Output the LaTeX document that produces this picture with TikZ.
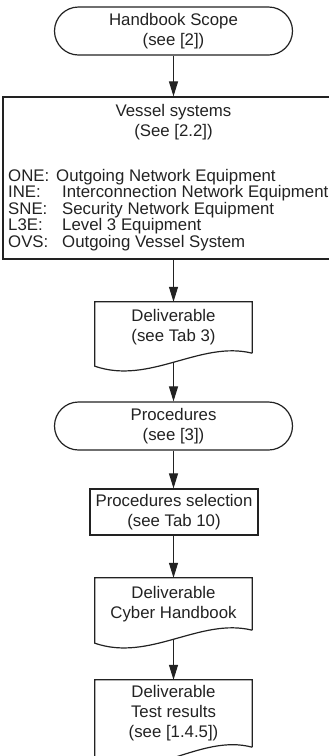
\documentclass[tikz,border=0pt]{standalone}
\usepackage{fontspec}
\setmainfont{Liberation Sans}
\usetikzlibrary{arrows.meta}
\definecolor{ink}{HTML}{222222}
\newcommand\tag[2][54pt]{\makebox[#1][l]{#2}}

\tikzset{
  every node/.style={font=\fontsize{16.8}{20}\selectfont, text=ink, inner sep=0pt},
  flow/.style={draw=ink, line width=1.2pt},
  terminal/.style={flow, rectangle, rounded corners=24pt, minimum width=238pt, minimum height=48pt, align=center},
  procbox/.style={flow, rectangle, minimum width=168pt, minimum height=46pt, align=center},
  docbox/.style={rectangle, minimum width=157pt, align=center},
  listline/.style={anchor=base west},
  arr/.style={draw=ink, line width=1.1pt, -{Triangle[length=15pt,width=9pt]}},
}

\begin{document}
\begin{tikzpicture}[x=1pt,y=-1pt]
\useasboundingbox (0,0) rectangle (329,756);

% start terminal
\node[terminal] (hs) at (173.5,31) {Handbook Scope\\(see [2])};

% vessel systems box (runs past the right margin)
\node[flow, rectangle, minimum width=342pt, minimum height=162pt] (vs) at (174,178) {};
\node[align=center] (vst) at (173.5,122) {Vessel systems\\(See [2.2])};
\node[listline] (l1) at (8,181) {\tag[48pt]{ONE:}Outgoing Network Equipment};
\node[listline] (l2) at (8,197.5) {\tag{INE:}Interconnection Network Equipment};
\node[listline] (l3) at (8,214) {\tag{SNE:}Security Network Equipment};
\node[listline] (l4) at (8,230.5) {\tag{L3E:}Level 3 Equipment};
\node[listline] (l5) at (8,247) {\tag{OVS:}Outgoing Vessel System};

% first deliverable
\node[docbox, minimum height=51pt] (d1) at (173.5,327.5) {Deliverable\\(see Tab 3)};
\draw[flow] (d1.south east) -- (d1.north east) -- (d1.north west) -- ([yshift=-13pt]d1.south west)
  .. controls +(55,19) and +(-52,-13) .. (d1.south east);
\coordinate (d1w) at ([yshift=-8.5pt]d1.south);

% procedures terminal
\node[terminal] (pr) at (173.5,426) {Procedures\\(see [3])};

% procedures selection
\node[procbox] (ps) at (174,512) {Procedures selection\\(see Tab 10)};

% second deliverable
\node[docbox, minimum height=52pt] (d2) at (173.5,604) {Deliverable\\Cyber Handbook};
\draw[flow] (d2.south east) -- (d2.north east) -- (d2.north west) -- ([yshift=-13pt]d2.south west)
  .. controls +(55,19) and +(-52,-13) .. (d2.south east);
\coordinate (d2w) at ([yshift=-8.5pt]d2.south);

% third deliverable
\node[docbox, minimum height=67pt] (d3) at (173.5,713.5) {Deliverable\\Test results\\(see [1.4.5])};
\draw[flow] (d3.south east) -- (d3.north east) -- (d3.north west) -- ([yshift=-15pt]d3.south west)
  .. controls +(55,21) and +(-52,-14) .. (d3.south east);

% connectors
\draw[arr] (hs.south) -- (hs.south |- vs.north);
\draw[arr] (hs.south |- vs.south) -- (d1.north);
\draw[arr] (d1w) -- (pr.north);
\draw[arr] (pr.south) -- (pr.south |- ps.north);
\draw[arr] (pr.south |- ps.south) -- (d2.north);
\draw[arr] (d2w) -- (d3.north);
\end{tikzpicture}
\end{document}
